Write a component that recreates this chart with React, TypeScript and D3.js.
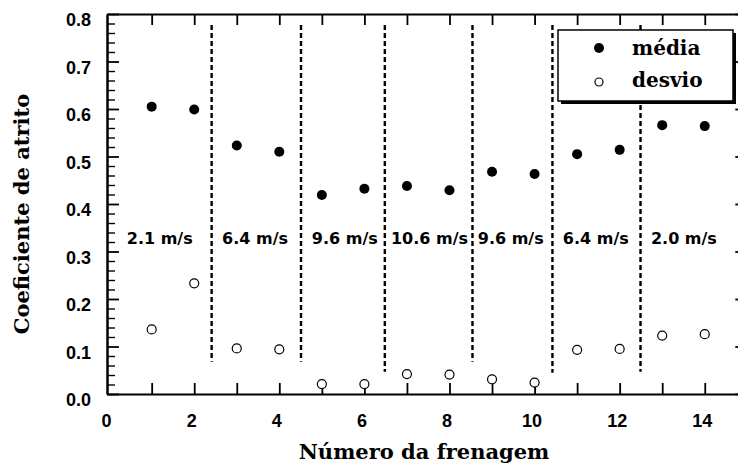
import React, { useEffect, useRef } from 'react';
import * as d3 from 'd3';

// braking number vs friction coefficient
const brakingNo = [1, 2, 3, 4, 5, 6, 7, 8, 9, 10, 11, 12, 13, 14];
const meanCoef = [0.605, 0.599, 0.523, 0.51, 0.419, 0.432, 0.438, 0.429, 0.468, 0.463, 0.505, 0.514, 0.566, 0.564];
const stdCoef = [0.136, 0.233, 0.096, 0.094, 0.021, 0.021, 0.042, 0.041, 0.031, 0.024, 0.093, 0.095, 0.123, 0.126];

const speedLabels = ['2.1 m/s', '6.4 m/s', '9.6 m/s', '10.6 m/s', '9.6 m/s', '6.4 m/s', '2.0 m/s'];
const speedLabelX = [1.19, 3.43, 5.54, 7.53, 9.44, 11.44, 13.51];
const speedLabelY = 0.316;

const dividerX = [2.41, 4.51, 6.48, 8.54, 10.42, 12.49];
const dividerTop = 0.777;
const dividerBottom = [0.068, 0.068, 0.047, 0.068, 0.045, 0.047];

const xTickLabels = [0, 2, 4, 6, 8, 10, 12, 14];
const yTickLabels = [0, 0.1, 0.2, 0.3, 0.4, 0.5, 0.6, 0.7, 0.8];

const W = 738;
const H = 464;

const sansBold = 'Liberation Sans, Arial, sans-serif';
const serif = 'DejaVu Serif, serif';

const x = d3.scaleLinear().domain([-0.05, 15]).range([107, 747.3]);
const y = d3.scaleLinear().domain([0, 0.8]).range([394, 14]);

export default function App() {
  const axesRef = useRef<SVGGElement>(null);

  const yb = y(0);
  const yt = y(0.8);
  const xr = x(15);

  useEffect(() => {
    const g = d3.select(axesRef.current);
    g.selectAll('*').remove();

    const xTicks = d3.range(1, 15);
    const minorY = d3.range(1, 40).filter(k => k % 5 !== 0).map(k => k * 0.02);

    const style = (sel, w) => {
      sel.selectAll('text').remove();
      sel.select('.domain').attr('stroke', '#000').attr('stroke-width', 2);
      sel.selectAll('.tick line').attr('stroke', '#000').attr('stroke-width', w);
    };

    // bottom and top, ticks pointing inward
    g.append('g')
      .attr('transform', `translate(0,${yb})`)
      .call(d3.axisBottom(x).tickValues(xTicks).tickSizeInner(-11).tickSizeOuter(0).tickFormat(() => ''))
      .call(s => style(s, 1.8));
    g.append('g')
      .attr('transform', `translate(0,${yt})`)
      .call(d3.axisTop(x).tickValues(xTicks).tickSizeInner(-11).tickSizeOuter(0).tickFormat(() => ''))
      .call(s => style(s, 1.8));

    // left and right, major + minor
    g.append('g')
      .attr('transform', `translate(${x(-0.05)},0)`)
      .call(d3.axisLeft(y).tickValues(yTickLabels).tickSizeInner(-12).tickSizeOuter(0).tickFormat(() => ''))
      .call(s => style(s, 1.8));
    g.append('g')
      .attr('transform', `translate(${x(-0.05)},0)`)
      .call(d3.axisLeft(y).tickValues(minorY).tickSizeInner(-8).tickSizeOuter(0).tickFormat(() => ''))
      .call(s => style(s, 1.4));
    g.append('g')
      .attr('transform', `translate(${xr},0)`)
      .call(d3.axisRight(y).tickValues(yTickLabels).tickSizeInner(-12).tickSizeOuter(0).tickFormat(() => ''))
      .call(s => style(s, 1.8));
    g.append('g')
      .attr('transform', `translate(${xr},0)`)
      .call(d3.axisRight(y).tickValues(minorY).tickSizeInner(-8).tickSizeOuter(0).tickFormat(() => ''))
      .call(s => style(s, 1.4));
  }, []);

  return (
    <>
      <style>{`html,body{margin:0;padding:0;overflow:hidden;background:#fff}`}</style>
      <svg width={W} height={H} style={{ display: 'block' }}>
        <g ref={axesRef} />

        {/* tick labels */}
        {xTickLabels.map(t => (
          <text
            key={'xl' + t}
            x={x(t) - 2.5}
            y={yb + 33}
            textAnchor="middle"
            fontFamily={sansBold}
            fontWeight="bold"
            fontSize={18}
          >
            {t}
          </text>
        ))}
        {yTickLabels.map(v => (
          <text
            key={'yl' + v}
            x={91}
            y={y(v) + 12}
            textAnchor="end"
            fontFamily={sansBold}
            fontWeight="bold"
            fontSize={18}
          >
            {v.toFixed(1)}
          </text>
        ))}

        {/* dashed dividers */}
        {dividerX.map((d, i) => (
          <line
            key={'dv' + i}
            x1={x(d)}
            x2={x(d)}
            y1={y(dividerTop)}
            y2={y(dividerBottom[i])}
            stroke="#000"
            strokeWidth={2.4}
            strokeDasharray="5,3"
          />
        ))}

        {/* speed labels */}
        {speedLabels.map((s, i) => (
          <text
            key={'sp' + i}
            x={x(speedLabelX[i])}
            y={y(speedLabelY)}
            textAnchor="middle"
            fontFamily="DejaVu Sans, sans-serif"
            fontWeight="bold"
            fontSize={16}
          >
            {s}
          </text>
        ))}

        {/* data */}
        {brakingNo.map((n, i) => (
          <circle key={'m' + n} cx={x(n)} cy={y(meanCoef[i])} r={5} fill="#000" />
        ))}
        {brakingNo.map((n, i) => (
          <circle
            key={'s' + n}
            cx={x(n)}
            cy={y(stdCoef[i])}
            r={4.5}
            fill="#fff"
            stroke="#000"
            strokeWidth={1.2}
          />
        ))}

        {/* legend */}
        <rect x={561} y={33} width={175} height={71} fill="#000" />
        <rect x={558} y={30} width={175} height={71} fill="#fff" stroke="#000" strokeWidth={1.5} />
        <circle cx={599} cy={48} r={5} fill="#000" />
        <circle cx={599} cy={82} r={4} fill="#fff" stroke="#000" strokeWidth={1.2} />
        <text x={632} y={55} fontFamily={serif} fontWeight="bold" fontSize={20}>
          média
        </text>
        <text x={632} y={87} fontFamily={serif} fontWeight="bold" fontSize={20}>
          desvio
        </text>

        {/* axis titles */}
        <text x={424} y={459} textAnchor="middle" fontFamily={serif} fontWeight="bold" fontSize={21}>
          Número da frenagem
        </text>
        <text
          transform="translate(29,214) rotate(-90)"
          textAnchor="middle"
          fontFamily={serif}
          fontWeight="bold"
          fontSize={21}
        >
          Coeficiente de atrito
        </text>
      </svg>
    </>
  );
}
